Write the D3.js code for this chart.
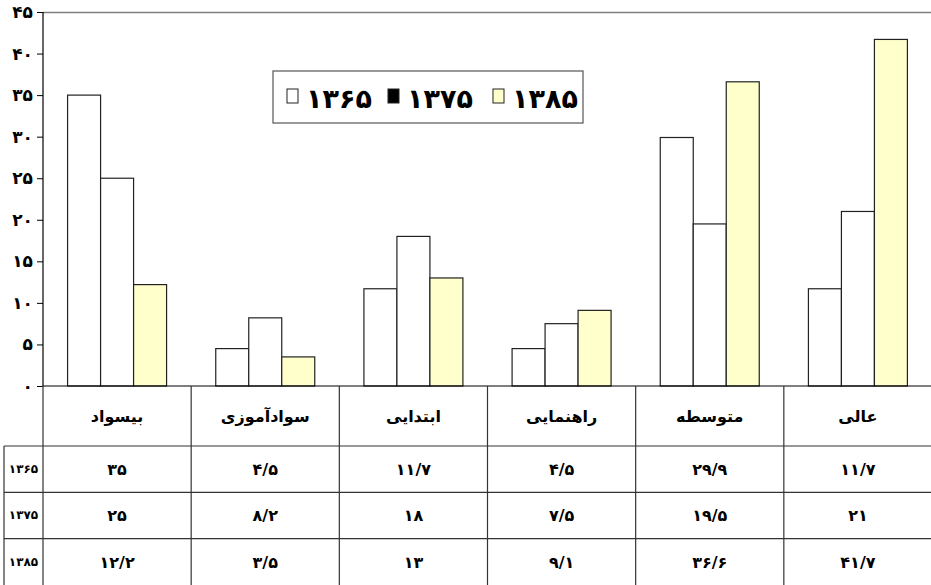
<html>
    <head>
        <meta charset="utf-8">
        <script src="https://d3js.org/d3.v7.min.js"></script>
        <style>
            body { margin: 0; background: #fff }
            text { font-family: 'DejaVu Sans', sans-serif; font-weight: bold }
        </style>
    </head>
    <body>
        <div id="container"></div>

        <script>
            // chart data
            const categories = ['بیسواد', 'سوادآموزی', 'ابتدایی', 'راهنمایی', 'متوسطه', 'عالی']
            const years = ['1365', '1375', '1385']
            const values1365 = [35, 4.5, 11.7, 4.5, 29.9, 11.7]
            const values1375 = [25, 8.2, 18, 7.5, 19.5, 21]
            const values1385 = [12.2, 3.5, 13, 9.1, 36.6, 41.7]
            const yTicks = [0, 5, 10, 15, 20, 25, 30, 35, 40, 45]

            const seriesValues = [values1365, values1375, values1385]
            const barColors = ['#ffffff', '#ffffff', '#ffffcc']
            const legendColors = ['#ffffff', '#000000', '#ffffcc']

            // western digits -> persian digits, decimal point -> '/'
            const fa = (v) => String(v).replace('.', '/').replace(/[0-9]/g, d => '۰۱۲۳۴۵۶۷۸۹'[d])

            const dimensions = { width: 931, height: 585 }
            const plot = { left: 43, right: 932, top: 12, bottom: 386 }
            const table = { headerBottom: 446, rowHeight: 46.3, labelLeft: 4 }

            const svg = d3.select('#container')
                .append('svg')
                .attr('width', dimensions.width)
                .attr('height', dimensions.height)

            const x0 = d3.scaleBand()
                .domain(categories)
                .range([plot.left, plot.right])

            const x1 = d3.scaleBand()
                .domain(years)
                .range([0, x0.bandwidth()])
                .paddingInner(0)
                .paddingOuter(0.745)

            const y = d3.scaleLinear()
                .domain([0, 45])
                .range([plot.bottom, plot.top])

            // top border of plot area
            svg.append('line')
                .attr('x1', plot.left).attr('x2', plot.right)
                .attr('y1', y(45) + 0.5).attr('y2', y(45) + 0.5)
                .attr('stroke', '#808080')
                .attr('stroke-width', 1.3)

            // bars
            const groups = svg.selectAll('g.group')
                .data(categories)
                .enter()
                .append('g')
                .attr('class', 'group')
                .attr('transform', d => `translate(${x0(d)},0)`)

            groups.selectAll('rect')
                .data((d, i) => years.map((yr, j) => ({ year: yr, value: seriesValues[j][i], j })))
                .enter()
                .append('rect')
                .attr('x', d => x1(d.year))
                .attr('y', d => y(d.value))
                .attr('width', x1.bandwidth())
                .attr('height', d => y(0) - y(d.value))
                .attr('fill', d => barColors[d.j])
                .attr('stroke', '#222')
                .attr('stroke-width', 1.2)

            // y axis
            const yAxis = d3.axisLeft(y)
                .tickValues(yTicks)
                .tickSize(6)
                .tickPadding(4)
                .tickFormat(fa)

            const axisG = svg.append('g')
                .attr('transform', `translate(${plot.left},0)`)
                .call(yAxis)

            axisG.select('.domain').attr('stroke', '#000').attr('stroke-width', 1.2)
                .attr('d', `M0,${plot.top}V${plot.bottom}`)
            axisG.selectAll('.tick line').attr('stroke', '#000')
            axisG.selectAll('.tick text')
                .attr('font-size', 17)
                .attr('font-family', "'DejaVu Sans', sans-serif")
                .attr('font-weight', 'bold')
                .attr('fill', '#000')

            // baseline
            svg.append('line')
                .attr('x1', plot.left).attr('x2', plot.right)
                .attr('y1', y(0)).attr('y2', y(0))
                .attr('stroke', '#000')
                .attr('stroke-width', 1.2)

            // legend
            const legend = svg.append('g').attr('transform', 'translate(273,71)')
            legend.append('rect')
                .attr('width', 310).attr('height', 52)
                .attr('fill', '#fff')
                .attr('stroke', '#555')
                .attr('stroke-width', 1.2)

            const legendX = [14, 115, 220]
            const legendItems = legend.selectAll('g.item')
                .data(years)
                .enter()
                .append('g')
                .attr('class', 'item')
                .attr('transform', (d, i) => `translate(${legendX[i]},0)`)

            legendItems.append('rect')
                .attr('y', 18)
                .attr('width', 11).attr('height', 14)
                .attr('fill', (d, i) => legendColors[i])
                .attr('stroke', '#222')
                .attr('stroke-width', 1)

            legendItems.append('text')
                .attr('x', 19)
                .attr('y', 37)
                .attr('font-size', 27)
                .text(d => fa(d))

            // data table
            const tableG = svg.append('g')
            const rowTop = i => table.headerBottom + i * table.rowHeight
            const lineColor = '#333'

            // horizontal lines
            for (let i = 0; i < 3; i++) {
                tableG.append('line')
                    .attr('x1', table.labelLeft).attr('x2', plot.right)
                    .attr('y1', rowTop(i)).attr('y2', rowTop(i))
                    .attr('stroke', lineColor).attr('stroke-width', 1.2)
            }

            // vertical lines
            const bounds = categories.map(c => x0(c)).concat([plot.right])
            bounds.forEach(b => {
                tableG.append('line')
                    .attr('x1', b).attr('x2', b)
                    .attr('y1', plot.bottom).attr('y2', dimensions.height)
                    .attr('stroke', lineColor).attr('stroke-width', 1.2)
            })
            tableG.append('line')
                .attr('x1', table.labelLeft).attr('x2', table.labelLeft)
                .attr('y1', table.headerBottom).attr('y2', dimensions.height)
                .attr('stroke', lineColor).attr('stroke-width', 1.2)

            // header labels
            tableG.selectAll('text.cat')
                .data(categories)
                .enter()
                .append('text')
                .attr('class', 'cat')
                .attr('x', d => x0(d) + x0.bandwidth() / 2)
                .attr('y', (plot.bottom + table.headerBottom) / 2 + 6)
                .attr('text-anchor', 'middle')
                .attr('font-size', 16)
                .text(d => d)

            // row labels and values
            years.forEach((yr, j) => {
                const cy = rowTop(j) + table.rowHeight / 2 + 6
                tableG.append('text')
                    .attr('x', (table.labelLeft + plot.left) / 2)
                    .attr('y', cy - 2)
                    .attr('text-anchor', 'middle')
                    .attr('font-size', 12)
                    .attr('font-weight', 'normal')
                    .text(fa(yr))

                tableG.selectAll(`text.v${yr}`)
                    .data(seriesValues[j])
                    .enter()
                    .append('text')
                    .attr('class', `v${yr}`)
                    .attr('x', (d, i) => x0(categories[i]) + x0.bandwidth() / 2)
                    .attr('y', cy)
                    .attr('text-anchor', 'middle')
                    .attr('font-size', 16)
                    .text(d => fa(d))
            })
        </script>
    </body>
</html>
